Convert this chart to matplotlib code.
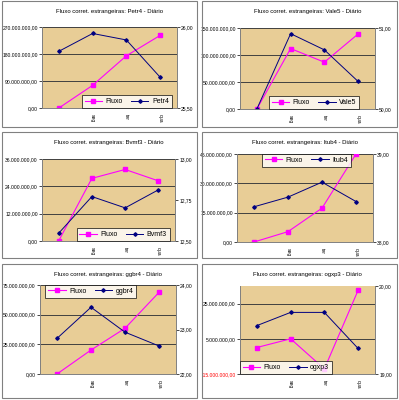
import matplotlib.pyplot as plt
from matplotlib.patches import Rectangle
from matplotlib.lines import Line2D

plt.rcParams['font.family'] = ['Liberation Sans', 'DejaVu Sans']

dias = ["", "seg", "ter", "qua"]

tickers = ["Petr4", "Vale5", "Bvmf3", "Itub4", "ggbr4", "ogxp3"]

fluxo_petr4 = [0, 75.6e6, 174e6, 242e6]
fluxo_vale5 = [0, 111.9e6, 86.7e6, 139e6]
fluxo_bvmf3 = [0, 27.5e6, 31.4e6, 26.4e6]
fluxo_itub4 = [0, 5.3e6, 17.3e6, 45e6]
fluxo_ggbr4 = [0, 20.2e6, 38.5e6, 68.8e6]
fluxo_ogxp3 = [0.05e6, 5e6, -12.1e6, 32.6e6]

preco_petr4 = [25.85, 25.96, 25.92, 25.69]
preco_vale5 = [50.00, 50.93, 50.73, 50.34]
preco_bvmf3 = [12.547, 12.771, 12.702, 12.812]
preco_itub4 = [38.40, 38.51, 38.68, 38.46]
preco_ggbr4 = [22.80, 23.50, 22.94, 22.63]
preco_ogxp3 = [19.55, 19.70, 19.70, 19.29]

left_ticks = [
    [0, 90e6, 180e6, 270e6],
    [0, 50e6, 100e6, 150e6],
    [0, 12e6, 24e6, 36e6],
    [0, 15e6, 30e6, 45e6],
    [0, 25e6, 50e6, 75e6],
    [-15e6, 5e6, 25e6],
]
left_lims = [(0, 270e6), (0, 150e6), (0, 36e6), (0, 45e6), (0, 75e6), (-15e6, 35e6)]
right_ticks = [[25.5, 26.0], [50, 51], [12.5, 12.75, 13.0], [38, 39], [22, 23, 24], [19, 20]]

fluxos = [fluxo_petr4, fluxo_vale5, fluxo_bvmf3, fluxo_itub4, fluxo_ggbr4, fluxo_ogxp3]
precos = [preco_petr4, preco_vale5, preco_bvmf3, preco_itub4, preco_ggbr4, preco_ogxp3]

W, H = 399, 400
fig = plt.figure(figsize=(W / 100, H / 100), dpi=100)

# chart borders (pixels: x0, y0, x1, y1)
borders = [(2, 1, 197, 127), (202, 1, 397, 127),
           (2, 132, 197, 258), (202, 132, 397, 258),
           (2, 264, 197, 398), (202, 264, 397, 398)]
# plot areas
areas = [(42, 27, 177, 108), (240, 28, 375, 109),
         (42, 159, 175, 241), (237, 154, 373, 242),
         (40, 285, 176, 374), (240, 286, 375, 374)]
legend_pos = [('lower right', (0.96, 0.0)), ('lower center', (0.55, 0.0)),
              ('lower right', (0.96, 0.0)), ('upper center', (0.51, 1.0)),
              ('upper left', (0.04, 1.0)), ('lower left', (0.0, 0.0))]


def br(v, pos=None):
    s = f"{v:,.2f}"
    return s.replace(",", "X").replace(".", ",").replace("X", ".")


fs = 3.6

for i in range(6):
    bx0, by0, bx1, by1 = borders[i]
    fig.patches.append(Rectangle((bx0 / W, 1 - by1 / H), (bx1 - bx0) / W, (by1 - by0) / H,
                                 transform=fig.transFigure, fill=False,
                                 edgecolor='#808080', linewidth=0.8))
    x0, y0, x1, y1 = areas[i]
    ax = fig.add_axes([x0 / W, 1 - y1 / H, (x1 - x0) / W, (y1 - y0) / H])
    ax.set_facecolor('#E8CD96')
    xs = range(len(dias))
    ax.plot(xs, fluxos[i], color='#FF00FF', marker='s', markersize=2.5, linewidth=0.8)
    ax.set_xlim(-0.5, 3.5)
    ax.set_ylim(*left_lims[i])
    ax.set_yticks(left_ticks[i])
    ax.set_yticklabels([br(v) for v in left_ticks[i]], fontsize=fs)
    for t, v in zip(ax.get_yticklabels(), left_ticks[i]):
        if v < 0:
            t.set_color('#FF0000')
    for v in left_ticks[i][1:]:
        ax.axhline(v, color='#404040', linewidth=0.7, zorder=0.5)
    ax.set_xticks(list(xs))
    ax.set_xticklabels(dias, rotation=270, fontsize=fs)
    ax.tick_params(length=2, width=0.5, pad=1)
    ax.tick_params(axis='x', length=0, pad=4)
    for s in ax.spines.values():
        s.set_color('#808080')
        s.set_linewidth(0.6)
    ax.spines['top'].set_visible(False)

    ax2 = ax.twinx()
    ax2.plot(xs, precos[i], color='#000080', marker='D', markersize=1.8, linewidth=0.7)
    ax2.set_ylim(right_ticks[i][0], right_ticks[i][-1])
    ax2.set_yticks(right_ticks[i])
    ax2.set_yticklabels([br(v) for v in right_ticks[i]], fontsize=fs)
    ax2.tick_params(length=2, width=0.5, pad=1)
    for s in ax2.spines.values():
        s.set_color('#808080')
        s.set_linewidth(0.6)
    ax2.spines['top'].set_visible(False)

    ax.set_title(f"Fluxo corret. estrangeiras: {tickers[i]} - Diário", fontsize=4.3,
                 pad=(y0 - by0 - 12) * 0.72)

    handles = [Line2D([], [], color='#FF00FF', marker='s', markersize=2.5, linewidth=0.8),
               Line2D([], [], color='#000080', marker='D', markersize=1.8, linewidth=0.7)]
    loc, anchor = legend_pos[i]
    leg = ax2.legend(handles, ["Fluxo", tickers[i]], loc=loc, bbox_to_anchor=anchor,
                     ncol=2, fontsize=5, frameon=True, fancybox=False,
                     handlelength=2.5, borderpad=0.4, columnspacing=1.2,
                     handletextpad=0.5, borderaxespad=0.0)
    leg.get_frame().set_edgecolor('black')
    leg.get_frame().set_linewidth(0.6)

plt.savefig('out.png', dpi=100)
